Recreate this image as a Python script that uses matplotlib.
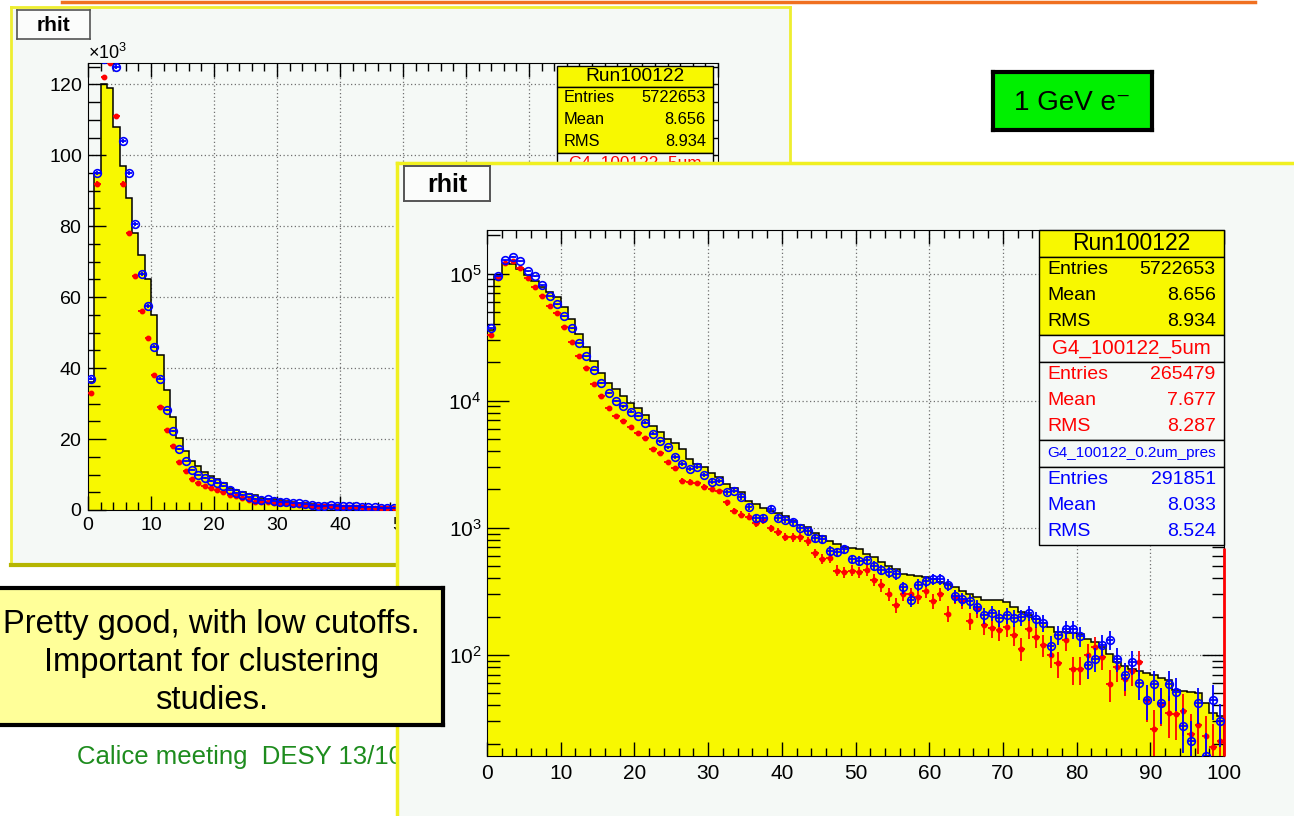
import numpy as np
import matplotlib
matplotlib.use('Agg')
import matplotlib.pyplot as plt
from matplotlib.patches import Rectangle
from matplotlib.lines import Line2D
from matplotlib.ticker import MultipleLocator, LogLocator, NullFormatter, FuncFormatter

plt.rcParams['font.family'] = ['Liberation Sans', 'DejaVu Sans']
plt.rcParams['mathtext.default'] = 'regular'

# ---- histogram data (rhit, 1 unit bins from 0 to 100) ----
rhit_edges = np.arange(0, 101)

data_counts = [36000, 95000, 120000, 119000, 108000, 97000, 88000, 78000, 72000, 65000,
               55000, 43600, 33700, 26300, 20400, 16500, 13700, 12300, 10800, 9600,
               8800, 7700, 6300, 5700, 5000, 4600, 4200, 3500, 3200, 3000,
               2700, 2500, 2200, 2050, 1900, 1620, 1550, 1430, 1360, 1310,
               1240, 1120, 1060, 1010, 913, 860, 787, 741, 700, 690,
               677, 625, 584, 533, 502, 473, 432, 425, 420, 407,
               395, 372, 362, 339, 320, 300, 284, 268, 268, 268,
               262, 237, 217, 205, 192, 178, 165, 151, 150, 148,
               147, 134, 126, 115, 102, 88, 82, 78, 74, 72,
               69, 66, 63, 53, 52, 51, 50, 42, 35, 33]

g4_5um = [33000, 92000, 122000, 126000, 111000, 92000, 78000, 66000, 56000, 48600,
          38000, 29000, 22600, 18000, 13600, 10900, 8800, 7600, 6900, 6200,
          5600, 5100, 4200, 3850, 3300, 2950, 2350, 2300, 2250, 2100,
          2000, 1940, 1580, 1350, 1270, 1220, 1080, 1150, 990, 930,
          850, 840, 840, 780, 630, 565, 580, 460, 450, 460,
          445, 465, 390, 355, 300, 245, 300, 300, 285, 316,
          266, 300, 211, 285, 266, 185, 228, 171, 163, 156,
          167, 143, 112, 160, 139, 120, 100, 86, 132, 77,
          77, 100, 115, 97, 59, 80, 65, 75, 88, 44,
          26, 41, 35, 34, 36, 24, 28, 23, 19, 21]

g4_02um = [37000, 95000, 127000, 136000, 125000, 104000, 95000, 80600, 66500, 57500,
           46000, 37000, 28200, 22300, 17300, 13700, 11400, 10000, 9000, 8200,
           7600, 6700, 5500, 4800, 4300, 3600, 3200, 2900, 3000, 2600,
           2300, 2330, 1900, 1950, 1750, 1450, 1200, 1200, 1400, 1200,
           1150, 1100, 1000, 940, 830, 810, 660, 640, 680, 565,
           550, 555, 500, 465, 445, 432, 340, 270, 355, 380,
           395, 395, 355, 290, 275, 263, 240, 204, 213, 195,
           204, 195, 197, 213, 191, 178, 118, 143, 160, 160,
           140, 83, 93, 120, 132, 93, 69, 88, 60, 44,
           59, 42, 59, 51, 27.5, 21, 42, 16, 44, 30]

red_edge_top = 690

# ---- stat box contents ----
stat_titles = ['Run100122', 'G4_100122_5um', 'G4_100122_0.2um_pres']
stat_colors = ['black', 'red', 'blue']
stat_entries = ['5722653', '265479', '291851']
stat_means = ['8.656', '7.677', '8.033']
stat_rms = ['8.934', '8.287', '8.524']

W, H = 1294, 816
CANVAS = '#f5f9f6'
HYELLOW = '#f8f800'
GRID = dict(color='#707070', ls=(0, (1, 2)), lw=0.9, zorder=0.5)


def frac(x0, y0, x1, y1):
    return [x0 / W, 1 - y1 / H, (x1 - x0) / W, (y1 - y0) / H]


def panel(fig, x0, y0, x1, y1, z, fc, ec='black', lw=1.0):
    ax = fig.add_axes(frac(x0, y0, x1, y1), zorder=z)
    ax.set_facecolor(fc)
    ax.set_xticks([])
    ax.set_yticks([])
    for s in ax.spines.values():
        s.set_edgecolor(ec)
        s.set_linewidth(lw)
    return ax


def stats_box(fig, x0, x1, y0, th, bh, z, fs_title, fs_row):
    total = 3 * (th + bh)
    ax = fig.add_axes(frac(x0, y0, x1, y0 + total), zorder=z)
    ax.set_xlim(0, 1)
    ax.set_ylim(total, 0)
    ax.axis('off')
    for i in range(3):
        y = i * (th + bh)
        fc = HYELLOW if i == 0 else CANVAS
        c = stat_colors[i]
        ax.add_patch(Rectangle((0, y), 1, th, fc=fc, ec='black', lw=1, clip_on=False))
        ax.add_patch(Rectangle((0, y + th), 1, bh, fc=fc, ec='black', lw=1, clip_on=False))
        ax.text(0.5, y + th / 2, stat_titles[i], color=c, fontsize=fs_title[i],
                ha='center', va='center')
        rows = [('Entries', stat_entries[i]), ('Mean', stat_means[i]), ('RMS', stat_rms[i])]
        for j, (lab, val) in enumerate(rows):
            yy = y + th + bh * (j + 0.5) / 3
            ax.text(0.045, yy, lab, color=c, fontsize=fs_row, ha='left', va='center')
            ax.text(0.955, yy, val, color=c, fontsize=fs_row, ha='right', va='center')
    return ax


def draw_hists(ax, baseline):
    data = np.array(data_counts, dtype=float)
    centers = 0.5 * (rhit_edges[:-1] + rhit_edges[1:])
    ax.stairs(data, rhit_edges, fill=True, color=HYELLOW, baseline=baseline, zorder=1)
    ax.stairs(data, rhit_edges, color='black', lw=1.1, baseline=baseline, zorder=2)
    red = np.array(g4_5um, dtype=float)
    blue = np.array(g4_02um, dtype=float)
    # poisson errors of the normalised simulation histograms
    red_err = np.sqrt(red * data.sum() / float(stat_entries[1]))
    blue_err = np.sqrt(blue * data.sum() / float(stat_entries[2]))
    ax.errorbar(centers, red, yerr=red_err, xerr=0.5, fmt='o', ms=3.2, color='red',
                elinewidth=1.3, capsize=0, zorder=3)
    ax.errorbar(centers, blue, yerr=blue_err, xerr=0.5, fmt='o', ms=5.5, mfc='none',
                mec='blue', mew=1.2, color='blue', elinewidth=1.3, capsize=0, zorder=4)


fig = plt.figure(figsize=(W / 100, H / 100), dpi=100)
fig.patch.set_facecolor('white')

# slide decoration
fig.add_artist(Line2D([62 / W, 1255 / W], [1 - 1.5 / H, 1 - 1.5 / H],
                      color='#f07020', lw=2.5, zorder=1))
fig.text(77 / W, 1 - 757 / H, 'Calice meeting  DESY 13/10', color='#1e8c1e',
         fontsize=18.5, ha='left', va='center', zorder=4)

# ---- left (linear) canvas ----
lc = panel(fig, 11, 7, 790, 565, 1, CANVAS, ec='#eeee30', lw=2)
lc.spines['bottom'].set_edgecolor('#b5b500')
lc.spines['bottom'].set_linewidth(3)

lt = panel(fig, 17, 10, 90, 39, 3, '#fbfcfb', ec='#555555', lw=1.2)
lt.text(0.5, 0.45, 'rhit', ha='center', va='center', fontsize=15, weight='bold')

axl = fig.add_axes(frac(88, 63, 718, 510), zorder=2)
axl.set_facecolor('none')
draw_hists(axl, 0)
axl.set_xlim(0, 100)
axl.set_ylim(0, 126000)
for v in range(10, 100, 10):
    axl.axvline(v, **GRID)
for v in range(20000, 126000, 20000):
    axl.axhline(v, **GRID)
axl.xaxis.set_major_locator(MultipleLocator(10))
axl.xaxis.set_minor_locator(MultipleLocator(2))
# labels past 50 sit under the second canvas
axl.xaxis.set_major_formatter(FuncFormatter(lambda v, p: f'{v:g}' if v <= 50 else ''))
axl.yaxis.set_major_locator(MultipleLocator(20000))
axl.yaxis.set_minor_locator(MultipleLocator(5000))
axl.tick_params(which='both', direction='in', top=True, right=True, labelsize=14, width=1)
axl.tick_params(axis='y', which='major', length=13, pad=4)
axl.tick_params(axis='y', which='minor', length=8.5)
axl.tick_params(axis='x', which='major', length=10, pad=5)
axl.tick_params(axis='x', which='minor', length=5.5)
axl.ticklabel_format(axis='y', style='sci', scilimits=(3, 3), useMathText=True)
axl.yaxis.get_offset_text().set_fontsize(13)

stats_box(fig, 557, 713, 66, 21, 66, 3, [13.8, 12.4, 9.3], 11.8)

# ---- right (log) canvas ----
rc = panel(fig, 397, 163, 1310, 830, 5, CANVAS, ec='#f0f020', lw=2.5)

rt = panel(fig, 404, 166, 490, 201, 6, '#fbfcfb', ec='#555555', lw=1.4)
rt.text(0.5, 0.45, 'rhit', ha='center', va='center', fontsize=18, weight='bold')

axr = fig.add_axes(frac(487, 230, 1224, 756), zorder=6)
axr.set_facecolor('none')
axr.set_yscale('log')
draw_hists(axr, 1)
axr.vlines(100, 16, red_edge_top, colors='red', lw=2, zorder=4, clip_on=False)
axr.set_xlim(0, 100)
axr.set_ylim(16, 2.2e5)
for v in range(10, 100, 10):
    axr.axvline(v, **GRID)
for v in [1e2, 1e3, 1e4, 1e5]:
    axr.axhline(v, **GRID)
axr.xaxis.set_major_locator(MultipleLocator(10))
axr.xaxis.set_minor_locator(MultipleLocator(2))
axr.yaxis.set_major_locator(LogLocator(base=10))
axr.yaxis.set_minor_locator(LogLocator(base=10, subs=np.arange(2, 10)))
axr.yaxis.set_minor_formatter(NullFormatter())
axr.tick_params(which='both', direction='in', top=True, right=True, labelsize=15, width=1)
axr.tick_params(axis='y', which='major', length=16, pad=4)
axr.tick_params(axis='y', which='minor', length=9)
axr.tick_params(axis='x', which='major', length=10, pad=6)
axr.tick_params(axis='x', which='minor', length=5.5)

stats_box(fig, 1039, 1224, 230, 27, 78, 7, [16.5, 14.8, 11], 14)

# ---- text boxes ----
cb = panel(fig, -5, 588, 443, 725, 10, '#ffff99', ec='black', lw=3)
cb.text(0.483, 0.455, 'Pretty good, with low cutoffs.\nImportant for clustering\nstudies.',
        ha='center', va='center', fontsize=23.6, linespacing=1.28)

gb = panel(fig, 993, 72, 1152, 130, 10, '#00f000', ec='black', lw=3)
gb.text(0.5, 0.47, '1 GeV e\u207b', ha='center', va='center', fontsize=20)

fig.savefig('out.png', dpi=100)
